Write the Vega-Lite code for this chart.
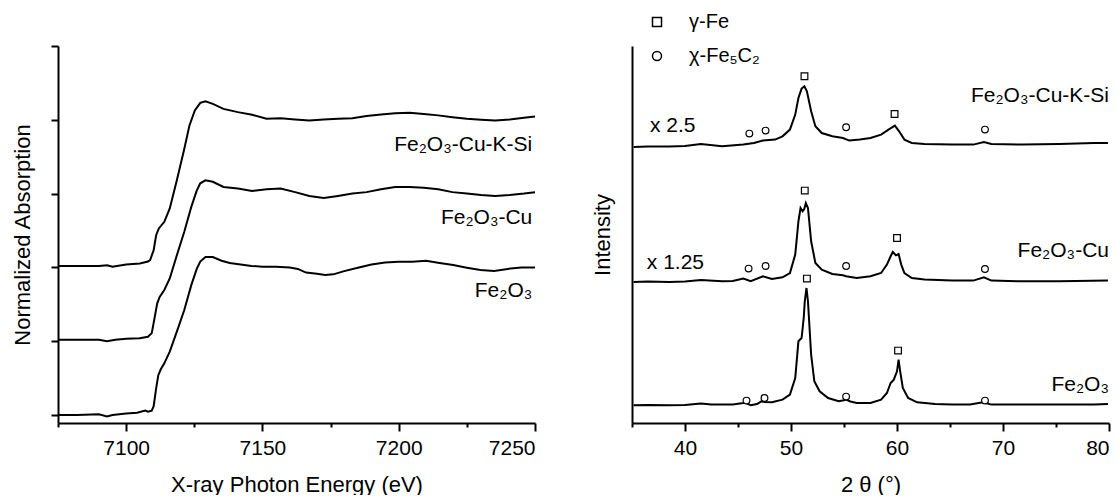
{
  "$schema": "https://vega.github.io/schema/vega-lite/v6.json",
  "padding": {"left": 11, "top": 12, "right": 0, "bottom": 0},
  "bounds": "flush",
  "spacing": 97,
  "config": {
    "view": {"stroke": null},
    "font": "Liberation Sans",
    "axis": {"domainColor": "black", "domainWidth": 2, "tickColor": "black", "tickWidth": 2, "labelColor": "black", "titleColor": "black", "labelFont": "Liberation Sans", "titleFont": "Liberation Sans", "labelFontSize": 21, "titleFontSize": 22, "titleFontWeight": "normal", "grid": false}
  },
  "datasets": {
    "xanes": [
      {"s": "Fe2O3", "E": 7075, "A": 0.0}, {"s": "Fe2O3", "E": 7082, "A": 0.0}, {"s": "Fe2O3", "E": 7090, "A": 0.005}, {"s": "Fe2O3", "E": 7093, "A": -0.01}, {"s": "Fe2O3", "E": 7095, "A": 0.0}, {"s": "Fe2O3", "E": 7100, "A": 0.01}, {"s": "Fe2O3", "E": 7104, "A": 0.015}, {"s": "Fe2O3", "E": 7107, "A": 0.03}, {"s": "Fe2O3", "E": 7108, "A": 0.022}, {"s": "Fe2O3", "E": 7109.4, "A": 0.03}, {"s": "Fe2O3", "E": 7110.1, "A": 0.06}, {"s": "Fe2O3", "E": 7111, "A": 0.18}, {"s": "Fe2O3", "E": 7111.8, "A": 0.27}, {"s": "Fe2O3", "E": 7112.7, "A": 0.31}, {"s": "Fe2O3", "E": 7114, "A": 0.35}, {"s": "Fe2O3", "E": 7116, "A": 0.43}, {"s": "Fe2O3", "E": 7118.6, "A": 0.565}, {"s": "Fe2O3", "E": 7121.3, "A": 0.71}, {"s": "Fe2O3", "E": 7123.9, "A": 0.88}, {"s": "Fe2O3", "E": 7125.9, "A": 0.99}, {"s": "Fe2O3", "E": 7127.2, "A": 1.04}, {"s": "Fe2O3", "E": 7129.1, "A": 1.07}, {"s": "Fe2O3", "E": 7131.8, "A": 1.07}, {"s": "Fe2O3", "E": 7135, "A": 1.045}, {"s": "Fe2O3", "E": 7138, "A": 1.03}, {"s": "Fe2O3", "E": 7142, "A": 1.02}, {"s": "Fe2O3", "E": 7146, "A": 1.01}, {"s": "Fe2O3", "E": 7150, "A": 1.005}, {"s": "Fe2O3", "E": 7155, "A": 1.005}, {"s": "Fe2O3", "E": 7160, "A": 1.0}, {"s": "Fe2O3", "E": 7163, "A": 0.99}, {"s": "Fe2O3", "E": 7166, "A": 0.965}, {"s": "Fe2O3", "E": 7170, "A": 0.957}, {"s": "Fe2O3", "E": 7173, "A": 0.948}, {"s": "Fe2O3", "E": 7176, "A": 0.953}, {"s": "Fe2O3", "E": 7180, "A": 0.975}, {"s": "Fe2O3", "E": 7185, "A": 0.998}, {"s": "Fe2O3", "E": 7190, "A": 1.02}, {"s": "Fe2O3", "E": 7195, "A": 1.034}, {"s": "Fe2O3", "E": 7200, "A": 1.038}, {"s": "Fe2O3", "E": 7205, "A": 1.038}, {"s": "Fe2O3", "E": 7210, "A": 1.045}, {"s": "Fe2O3", "E": 7215, "A": 1.03}, {"s": "Fe2O3", "E": 7220, "A": 1.016}, {"s": "Fe2O3", "E": 7225, "A": 0.998}, {"s": "Fe2O3", "E": 7230, "A": 0.982}, {"s": "Fe2O3", "E": 7235, "A": 0.975}, {"s": "Fe2O3", "E": 7240, "A": 0.99}, {"s": "Fe2O3", "E": 7245, "A": 1.0}, {"s": "Fe2O3", "E": 7250, "A": 1.0},

      {"s": "Fe2O3-Cu", "E": 7075, "A": 0.51}, {"s": "Fe2O3-Cu", "E": 7090, "A": 0.51}, {"s": "Fe2O3-Cu", "E": 7093, "A": 0.5}, {"s": "Fe2O3-Cu", "E": 7096, "A": 0.51}, {"s": "Fe2O3-Cu", "E": 7100, "A": 0.517}, {"s": "Fe2O3-Cu", "E": 7105, "A": 0.52}, {"s": "Fe2O3-Cu", "E": 7108, "A": 0.53}, {"s": "Fe2O3-Cu", "E": 7109.4, "A": 0.555}, {"s": "Fe2O3-Cu", "E": 7110.4, "A": 0.655}, {"s": "Fe2O3-Cu", "E": 7111.4, "A": 0.757}, {"s": "Fe2O3-Cu", "E": 7112.3, "A": 0.8}, {"s": "Fe2O3-Cu", "E": 7114, "A": 0.847}, {"s": "Fe2O3-Cu", "E": 7116, "A": 0.925}, {"s": "Fe2O3-Cu", "E": 7118.6, "A": 1.083}, {"s": "Fe2O3-Cu", "E": 7121.3, "A": 1.24}, {"s": "Fe2O3-Cu", "E": 7123.9, "A": 1.41}, {"s": "Fe2O3-Cu", "E": 7125.9, "A": 1.52}, {"s": "Fe2O3-Cu", "E": 7127.2, "A": 1.57}, {"s": "Fe2O3-Cu", "E": 7129.1, "A": 1.59}, {"s": "Fe2O3-Cu", "E": 7131.8, "A": 1.58}, {"s": "Fe2O3-Cu", "E": 7135.7, "A": 1.545}, {"s": "Fe2O3-Cu", "E": 7141, "A": 1.534}, {"s": "Fe2O3-Cu", "E": 7146.2, "A": 1.518}, {"s": "Fe2O3-Cu", "E": 7151.5, "A": 1.53}, {"s": "Fe2O3-Cu", "E": 7156.7, "A": 1.534}, {"s": "Fe2O3-Cu", "E": 7162, "A": 1.51}, {"s": "Fe2O3-Cu", "E": 7167.2, "A": 1.484}, {"s": "Fe2O3-Cu", "E": 7172.5, "A": 1.47}, {"s": "Fe2O3-Cu", "E": 7177.7, "A": 1.484}, {"s": "Fe2O3-Cu", "E": 7183, "A": 1.5}, {"s": "Fe2O3-Cu", "E": 7188.2, "A": 1.51}, {"s": "Fe2O3-Cu", "E": 7193.5, "A": 1.53}, {"s": "Fe2O3-Cu", "E": 7198.7, "A": 1.545}, {"s": "Fe2O3-Cu", "E": 7204, "A": 1.545}, {"s": "Fe2O3-Cu", "E": 7209.2, "A": 1.54}, {"s": "Fe2O3-Cu", "E": 7214.5, "A": 1.53}, {"s": "Fe2O3-Cu", "E": 7219.7, "A": 1.51}, {"s": "Fe2O3-Cu", "E": 7225, "A": 1.5}, {"s": "Fe2O3-Cu", "E": 7230.2, "A": 1.49}, {"s": "Fe2O3-Cu", "E": 7235.4, "A": 1.484}, {"s": "Fe2O3-Cu", "E": 7240.7, "A": 1.49}, {"s": "Fe2O3-Cu", "E": 7246, "A": 1.5}, {"s": "Fe2O3-Cu", "E": 7250, "A": 1.51},

      {"s": "Fe2O3-Cu-K-Si", "E": 7075, "A": 1.01}, {"s": "Fe2O3-Cu-K-Si", "E": 7090, "A": 1.01}, {"s": "Fe2O3-Cu-K-Si", "E": 7093, "A": 1.015}, {"s": "Fe2O3-Cu-K-Si", "E": 7095, "A": 1.005}, {"s": "Fe2O3-Cu-K-Si", "E": 7100, "A": 1.02}, {"s": "Fe2O3-Cu-K-Si", "E": 7105, "A": 1.027}, {"s": "Fe2O3-Cu-K-Si", "E": 7108, "A": 1.04}, {"s": "Fe2O3-Cu-K-Si", "E": 7108.8, "A": 1.05}, {"s": "Fe2O3-Cu-K-Si", "E": 7110.1, "A": 1.117}, {"s": "Fe2O3-Cu-K-Si", "E": 7111, "A": 1.218}, {"s": "Fe2O3-Cu-K-Si", "E": 7112, "A": 1.264}, {"s": "Fe2O3-Cu-K-Si", "E": 7114, "A": 1.309}, {"s": "Fe2O3-Cu-K-Si", "E": 7116, "A": 1.4}, {"s": "Fe2O3-Cu-K-Si", "E": 7118.6, "A": 1.59}, {"s": "Fe2O3-Cu-K-Si", "E": 7121.3, "A": 1.8}, {"s": "Fe2O3-Cu-K-Si", "E": 7123.2, "A": 1.96}, {"s": "Fe2O3-Cu-K-Si", "E": 7125.2, "A": 2.063}, {"s": "Fe2O3-Cu-K-Si", "E": 7127.2, "A": 2.115}, {"s": "Fe2O3-Cu-K-Si", "E": 7129.1, "A": 2.126}, {"s": "Fe2O3-Cu-K-Si", "E": 7131.8, "A": 2.108}, {"s": "Fe2O3-Cu-K-Si", "E": 7135.7, "A": 2.074}, {"s": "Fe2O3-Cu-K-Si", "E": 7141, "A": 2.052}, {"s": "Fe2O3-Cu-K-Si", "E": 7146.2, "A": 2.034}, {"s": "Fe2O3-Cu-K-Si", "E": 7151.5, "A": 2.007}, {"s": "Fe2O3-Cu-K-Si", "E": 7156.7, "A": 2.011}, {"s": "Fe2O3-Cu-K-Si", "E": 7162, "A": 2.002}, {"s": "Fe2O3-Cu-K-Si", "E": 7167.2, "A": 1.995}, {"s": "Fe2O3-Cu-K-Si", "E": 7172.5, "A": 2.002}, {"s": "Fe2O3-Cu-K-Si", "E": 7177.7, "A": 2.007}, {"s": "Fe2O3-Cu-K-Si", "E": 7183, "A": 2.011}, {"s": "Fe2O3-Cu-K-Si", "E": 7188.2, "A": 2.025}, {"s": "Fe2O3-Cu-K-Si", "E": 7193.5, "A": 2.036}, {"s": "Fe2O3-Cu-K-Si", "E": 7198.7, "A": 2.045}, {"s": "Fe2O3-Cu-K-Si", "E": 7204, "A": 2.047}, {"s": "Fe2O3-Cu-K-Si", "E": 7209.2, "A": 2.04}, {"s": "Fe2O3-Cu-K-Si", "E": 7214.5, "A": 2.03}, {"s": "Fe2O3-Cu-K-Si", "E": 7219.7, "A": 2.018}, {"s": "Fe2O3-Cu-K-Si", "E": 7225, "A": 2.007}, {"s": "Fe2O3-Cu-K-Si", "E": 7230.2, "A": 2.0}, {"s": "Fe2O3-Cu-K-Si", "E": 7235.4, "A": 1.995}, {"s": "Fe2O3-Cu-K-Si", "E": 7240.7, "A": 2.002}, {"s": "Fe2O3-Cu-K-Si", "E": 7246, "A": 2.014}, {"s": "Fe2O3-Cu-K-Si", "E": 7250, "A": 2.022}
    ],
    "xrd": [
      {"s": "Fe2O3", "t": 35.15, "I": 17.7}, {"s": "Fe2O3", "t": 36.5, "I": 17.9}, {"s": "Fe2O3", "t": 38.5, "I": 17.7}, {"s": "Fe2O3", "t": 40, "I": 18.0}, {"s": "Fe2O3", "t": 41.5, "I": 19.4}, {"s": "Fe2O3", "t": 42.5, "I": 18.4}, {"s": "Fe2O3", "t": 43.5, "I": 18.4}, {"s": "Fe2O3", "t": 44.5, "I": 18.6}, {"s": "Fe2O3", "t": 45.5, "I": 20.0}, {"s": "Fe2O3", "t": 45.7, "I": 20.5}, {"s": "Fe2O3", "t": 46.2, "I": 17.7}, {"s": "Fe2O3", "t": 46.8, "I": 19.0}, {"s": "Fe2O3", "t": 47.2, "I": 21.7}, {"s": "Fe2O3", "t": 47.5, "I": 21.0}, {"s": "Fe2O3", "t": 48.2, "I": 20.7}, {"s": "Fe2O3", "t": 49.2, "I": 23.4}, {"s": "Fe2O3", "t": 49.9, "I": 28.4}, {"s": "Fe2O3", "t": 50.4, "I": 45}, {"s": "Fe2O3", "t": 50.7, "I": 81.7}, {"s": "Fe2O3", "t": 51.0, "I": 85}, {"s": "Fe2O3", "t": 51.2, "I": 105}, {"s": "Fe2O3", "t": 51.3, "I": 121.7}, {"s": "Fe2O3", "t": 51.46, "I": 135}, {"s": "Fe2O3", "t": 51.6, "I": 121.7}, {"s": "Fe2O3", "t": 51.75, "I": 95}, {"s": "Fe2O3", "t": 51.9, "I": 68.4}, {"s": "Fe2O3", "t": 52.2, "I": 41.7}, {"s": "Fe2O3", "t": 52.7, "I": 31.7}, {"s": "Fe2O3", "t": 53.5, "I": 25}, {"s": "Fe2O3", "t": 54.5, "I": 21.7}, {"s": "Fe2O3", "t": 55.0, "I": 22.8}, {"s": "Fe2O3", "t": 55.2, "I": 23.4}, {"s": "Fe2O3", "t": 55.6, "I": 21.5}, {"s": "Fe2O3", "t": 56.2, "I": 20.0}, {"s": "Fe2O3", "t": 57.5, "I": 20.0}, {"s": "Fe2O3", "t": 58.5, "I": 23.4}, {"s": "Fe2O3", "t": 59.05, "I": 30}, {"s": "Fe2O3", "t": 59.4, "I": 40}, {"s": "Fe2O3", "t": 59.7, "I": 43.4}, {"s": "Fe2O3", "t": 60.0, "I": 51.7}, {"s": "Fe2O3", "t": 60.15, "I": 63.4}, {"s": "Fe2O3", "t": 60.3, "I": 51.7}, {"s": "Fe2O3", "t": 60.55, "I": 35}, {"s": "Fe2O3", "t": 61.05, "I": 25}, {"s": "Fe2O3", "t": 61.9, "I": 20.7}, {"s": "Fe2O3", "t": 63.6, "I": 19.0}, {"s": "Fe2O3", "t": 65.2, "I": 18.4}, {"s": "Fe2O3", "t": 66.9, "I": 18.4}, {"s": "Fe2O3", "t": 68.1, "I": 20.7}, {"s": "Fe2O3", "t": 68.3, "I": 20.2}, {"s": "Fe2O3", "t": 68.9, "I": 18.4}, {"s": "Fe2O3", "t": 71.9, "I": 18.4}, {"s": "Fe2O3", "t": 75.3, "I": 18.4}, {"s": "Fe2O3", "t": 78.6, "I": 18.4}, {"s": "Fe2O3", "t": 79.9, "I": 19.0},

      {"s": "Fe2O3-Cu", "t": 35.15, "I": 141}, {"s": "Fe2O3-Cu", "t": 36.5, "I": 141.5}, {"s": "Fe2O3-Cu", "t": 38.5, "I": 141}, {"s": "Fe2O3-Cu", "t": 40, "I": 141.5}, {"s": "Fe2O3-Cu", "t": 41.5, "I": 143}, {"s": "Fe2O3-Cu", "t": 43.5, "I": 141.7}, {"s": "Fe2O3-Cu", "t": 44.5, "I": 142}, {"s": "Fe2O3-Cu", "t": 45.5, "I": 144.4}, {"s": "Fe2O3-Cu", "t": 46.2, "I": 141.7}, {"s": "Fe2O3-Cu", "t": 47.35, "I": 146.7}, {"s": "Fe2O3-Cu", "t": 48.2, "I": 144}, {"s": "Fe2O3-Cu", "t": 49.2, "I": 145.7}, {"s": "Fe2O3-Cu", "t": 49.9, "I": 150}, {"s": "Fe2O3-Cu", "t": 50.4, "I": 168.4}, {"s": "Fe2O3-Cu", "t": 50.7, "I": 201.7}, {"s": "Fe2O3-Cu", "t": 50.9, "I": 215}, {"s": "Fe2O3-Cu", "t": 51.1, "I": 211.7}, {"s": "Fe2O3-Cu", "t": 51.25, "I": 214}, {"s": "Fe2O3-Cu", "t": 51.4, "I": 220}, {"s": "Fe2O3-Cu", "t": 51.6, "I": 215}, {"s": "Fe2O3-Cu", "t": 51.9, "I": 181.7}, {"s": "Fe2O3-Cu", "t": 52.3, "I": 160}, {"s": "Fe2O3-Cu", "t": 52.9, "I": 153.4}, {"s": "Fe2O3-Cu", "t": 53.9, "I": 149}, {"s": "Fe2O3-Cu", "t": 54.9, "I": 147.7}, {"s": "Fe2O3-Cu", "t": 55.2, "I": 146.7}, {"s": "Fe2O3-Cu", "t": 56.2, "I": 145}, {"s": "Fe2O3-Cu", "t": 57.5, "I": 146.7}, {"s": "Fe2O3-Cu", "t": 58.5, "I": 150}, {"s": "Fe2O3-Cu", "t": 59.05, "I": 158.4}, {"s": "Fe2O3-Cu", "t": 59.4, "I": 166.7}, {"s": "Fe2O3-Cu", "t": 59.6, "I": 171}, {"s": "Fe2O3-Cu", "t": 59.9, "I": 167.7}, {"s": "Fe2O3-Cu", "t": 60.15, "I": 169}, {"s": "Fe2O3-Cu", "t": 60.4, "I": 158.4}, {"s": "Fe2O3-Cu", "t": 60.7, "I": 150}, {"s": "Fe2O3-Cu", "t": 61.4, "I": 145}, {"s": "Fe2O3-Cu", "t": 62.6, "I": 143.4}, {"s": "Fe2O3-Cu", "t": 65.2, "I": 142.4}, {"s": "Fe2O3-Cu", "t": 67.2, "I": 142.4}, {"s": "Fe2O3-Cu", "t": 68.2, "I": 145.7}, {"s": "Fe2O3-Cu", "t": 68.9, "I": 142.4}, {"s": "Fe2O3-Cu", "t": 71.9, "I": 141.7}, {"s": "Fe2O3-Cu", "t": 75.3, "I": 141.7}, {"s": "Fe2O3-Cu", "t": 79.9, "I": 142.4},

      {"s": "Fe2O3-Cu-K-Si", "t": 35.15, "I": 276}, {"s": "Fe2O3-Cu-K-Si", "t": 36.5, "I": 276.5}, {"s": "Fe2O3-Cu-K-Si", "t": 38.5, "I": 276.4}, {"s": "Fe2O3-Cu-K-Si", "t": 40, "I": 277}, {"s": "Fe2O3-Cu-K-Si", "t": 41.5, "I": 279}, {"s": "Fe2O3-Cu-K-Si", "t": 43.5, "I": 276.7}, {"s": "Fe2O3-Cu-K-Si", "t": 45.5, "I": 278.4}, {"s": "Fe2O3-Cu-K-Si", "t": 46.5, "I": 280}, {"s": "Fe2O3-Cu-K-Si", "t": 47.35, "I": 282.4}, {"s": "Fe2O3-Cu-K-Si", "t": 48.5, "I": 283.4}, {"s": "Fe2O3-Cu-K-Si", "t": 49.2, "I": 286.7}, {"s": "Fe2O3-Cu-K-Si", "t": 49.9, "I": 293.4}, {"s": "Fe2O3-Cu-K-Si", "t": 50.4, "I": 308.4}, {"s": "Fe2O3-Cu-K-Si", "t": 50.7, "I": 325}, {"s": "Fe2O3-Cu-K-Si", "t": 51.0, "I": 334.4}, {"s": "Fe2O3-Cu-K-Si", "t": 51.26, "I": 336.7}, {"s": "Fe2O3-Cu-K-Si", "t": 51.5, "I": 331.7}, {"s": "Fe2O3-Cu-K-Si", "t": 51.9, "I": 311.7}, {"s": "Fe2O3-Cu-K-Si", "t": 52.3, "I": 296.7}, {"s": "Fe2O3-Cu-K-Si", "t": 52.9, "I": 290}, {"s": "Fe2O3-Cu-K-Si", "t": 53.9, "I": 286.7}, {"s": "Fe2O3-Cu-K-Si", "t": 54.9, "I": 285}, {"s": "Fe2O3-Cu-K-Si", "t": 55.5, "I": 282.4}, {"s": "Fe2O3-Cu-K-Si", "t": 56.5, "I": 283.4}, {"s": "Fe2O3-Cu-K-Si", "t": 57.5, "I": 285}, {"s": "Fe2O3-Cu-K-Si", "t": 58.5, "I": 288.4}, {"s": "Fe2O3-Cu-K-Si", "t": 59.2, "I": 293.4}, {"s": "Fe2O3-Cu-K-Si", "t": 59.8, "I": 297.4}, {"s": "Fe2O3-Cu-K-Si", "t": 60.2, "I": 291.7}, {"s": "Fe2O3-Cu-K-Si", "t": 60.7, "I": 283.4}, {"s": "Fe2O3-Cu-K-Si", "t": 61.4, "I": 280}, {"s": "Fe2O3-Cu-K-Si", "t": 62.6, "I": 279}, {"s": "Fe2O3-Cu-K-Si", "t": 65.2, "I": 278.4}, {"s": "Fe2O3-Cu-K-Si", "t": 67.2, "I": 278.4}, {"s": "Fe2O3-Cu-K-Si", "t": 68.2, "I": 281}, {"s": "Fe2O3-Cu-K-Si", "t": 68.9, "I": 279}, {"s": "Fe2O3-Cu-K-Si", "t": 71.9, "I": 278.4}, {"s": "Fe2O3-Cu-K-Si", "t": 75.3, "I": 279}, {"s": "Fe2O3-Cu-K-Si", "t": 78.6, "I": 280}, {"s": "Fe2O3-Cu-K-Si", "t": 79.9, "I": 280}
    ],
    "markers": [
      {"t": 51.27, "I": 346.7, "phase": "γ-Fe"}, {"t": 59.77, "I": 309, "phase": "γ-Fe"},
      {"t": 51.3, "I": 232.4, "phase": "γ-Fe"}, {"t": 60.0, "I": 185, "phase": "γ-Fe"},
      {"t": 51.5, "I": 144.4, "phase": "γ-Fe"}, {"t": 60.1, "I": 72.4, "phase": "γ-Fe"},
      {"t": 46.07, "I": 289.4, "phase": "χ-Fe₅C₂"}, {"t": 47.6, "I": 292.4, "phase": "χ-Fe₅C₂"}, {"t": 55.2, "I": 295.7, "phase": "χ-Fe₅C₂"}, {"t": 68.3, "I": 293.4, "phase": "χ-Fe₅C₂"},
      {"t": 46.0, "I": 154.4, "phase": "χ-Fe₅C₂"}, {"t": 47.6, "I": 157, "phase": "χ-Fe₅C₂"}, {"t": 55.2, "I": 157, "phase": "χ-Fe₅C₂"}, {"t": 68.3, "I": 154, "phase": "χ-Fe₅C₂"},
      {"t": 45.8, "I": 22.4, "phase": "χ-Fe₅C₂"}, {"t": 47.5, "I": 25, "phase": "χ-Fe₅C₂"}, {"t": 55.2, "I": 26.4, "phase": "χ-Fe₅C₂"}, {"t": 68.3, "I": 22.4, "phase": "χ-Fe₅C₂"}
    ],
    "labelsL": [
      {"E": 7249, "A": 1.83, "label": "Fe₂O₃-Cu-K-Si"},
      {"E": 7249, "A": 1.336, "label": "Fe₂O₃-Cu"},
      {"E": 7249, "A": 0.84, "label": "Fe₂O₃"}
    ],
    "labelsR": [
      {"t": 80, "I": 326.7, "label": "Fe₂O₃-Cu-K-Si"},
      {"t": 80, "I": 172.4, "label": "Fe₂O₃-Cu"},
      {"t": 80, "I": 38.4, "label": "Fe₂O₃"}
    ],
    "scaleLabels": [
      {"t": 36.7, "I": 296.7, "label": "x 2.5"},
      {"t": 36.4, "I": 160, "label": "x 1.25"}
    ]
  },
  "hconcat": [
    {
      "width": 477,
      "height": 377,
      "layer": [
        {
          "data": {"name": "xanes"},
          "mark": {"type": "line", "color": "black", "strokeWidth": 2},
          "encoding": {
            "x": {"field": "E", "type": "quantitative", "scale": {"domain": [7075, 7250], "nice": false, "zero": false},
                  "axis": {"orient": "bottom", "values": [7100, 7150, 7200, 7250], "format": "d", "tickSize": 8, "labelPadding": 6, "title": "X-ray Photon Energy (eV)", "titlePadding": 16}},
            "y": {"field": "A", "type": "quantitative", "scale": {"domain": [-0.054, 2.5], "nice": false, "zero": false},
                  "axis": {"values": [0, 0.5, 1, 1.5, 2, 2.5], "labels": false, "tickSize": 7, "title": "Normalized Absorption", "titlePadding": 16}},
            "detail": {"field": "s"}
          }
        },
        {
          "data": {"name": "labelsL"},
          "mark": {"type": "text", "align": "right", "baseline": "middle", "fontSize": 21, "color": "black", "font": "Liberation Sans"},
          "encoding": {
            "x": {"field": "E", "type": "quantitative", "axis": {"orient": "bottom", "values": [7075, 7125, 7175, 7225], "labels": false, "domain": false, "tickSize": 4, "title": null}},
            "y": {"field": "A", "type": "quantitative"},
            "text": {"field": "label"}
          }
        }
      ],
      "resolve": {"axis": {"x": "independent"}}
    },
    {
      "width": 477,
      "height": 377,
      "layer": [
        {
          "data": {"name": "xrd"},
          "mark": {"type": "line", "color": "black", "strokeWidth": 2},
          "encoding": {
            "x": {"field": "t", "type": "quantitative", "scale": {"domain": [35, 80], "nice": false, "zero": false},
                  "axis": {"orient": "bottom", "values": [40, 50, 60, 70, 80], "tickSize": 8, "labelPadding": 6, "title": "2 θ (°)", "titlePadding": 16}},
            "y": {"field": "I", "type": "quantitative", "scale": {"domain": [0, 377], "nice": false, "zero": false},
                  "axis": {"ticks": false, "labels": false, "title": "Intensity", "titlePadding": 18}},
            "detail": {"field": "s"}
          }
        },
        {
          "data": {"name": "markers"},
          "mark": {"type": "point", "filled": false, "color": "black", "fill": "white", "fillOpacity": 1, "strokeWidth": 1.2, "size": 45, "opacity": 1},
          "encoding": {
            "x": {"field": "t", "type": "quantitative", "axis": null},
            "y": {"field": "I", "type": "quantitative"},
            "shape": {"field": "phase", "type": "nominal",
                      "scale": {"domain": ["γ-Fe", "χ-Fe₅C₂"], "range": ["square", "circle"]},
                      "legend": {"title": null, "orient": "none", "legendX": 15, "legendY": -34, "direction": "vertical",
                                 "labelFontSize": 20, "labelFont": "Liberation Sans", "labelColor": "black", "labelOffset": 22, "rowPadding": 14,
                                 "symbolSize": 81,
                                 "encode": {"symbols": {"update": {"size": {"value": 81}, "fill": {"value": "white"}, "stroke": {"value": "black"}, "strokeWidth": {"value": 1.6}, "opacity": {"value": 1}, "fillOpacity": {"value": 1}, "strokeOpacity": {"value": 1}}}}}}
          }
        },
        {
          "data": {"name": "labelsR"},
          "mark": {"type": "text", "align": "right", "baseline": "middle", "fontSize": 21, "color": "black", "font": "Liberation Sans"},
          "encoding": {
            "x": {"field": "t", "type": "quantitative", "axis": {"orient": "bottom", "values": [35, 45, 55, 65, 75], "labels": false, "domain": false, "tickSize": 4, "title": null}},
            "y": {"field": "I", "type": "quantitative"},
            "text": {"field": "label"}
          }
        },
        {
          "data": {"name": "scaleLabels"},
          "mark": {"type": "text", "align": "left", "baseline": "middle", "fontSize": 21, "color": "black", "font": "Liberation Sans"},
          "encoding": {
            "x": {"field": "t", "type": "quantitative", "axis": null},
            "y": {"field": "I", "type": "quantitative"},
            "text": {"field": "label"}
          }
        }
      ],
      "resolve": {"axis": {"x": "independent"}}
    }
  ],
  "resolve": {"scale": {"shape": "independent"}, "legend": {"shape": "independent"}}
}
